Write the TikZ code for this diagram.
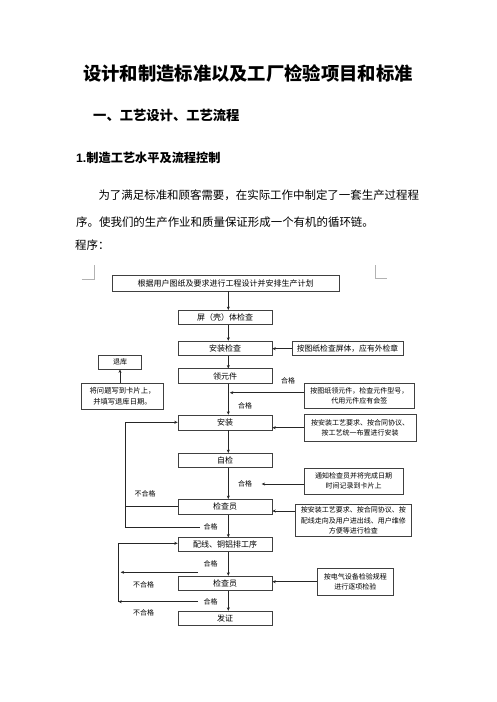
\documentclass[tikz,border=0pt]{standalone}
\usepackage{fontspec}
\newfontfamily\cjk{Noto Sans CJK SC}
\newfontfamily\latin{Liberation Sans}
\usetikzlibrary{arrows.meta, positioning}

\begin{document}
\begin{tikzpicture}[
    x=1pt, y=-1pt,
    >={Stealth[length=3.4pt, width=3pt]},
    font=\cjk\fontsize{8}{10}\selectfont,
    stepbox/.style={draw=black!75, line width=0.6pt, minimum width=94pt,
        minimum height=14.5pt, inner sep=0pt},
    notebox/.style={draw=black!75, line width=0.6pt, align=center, inner sep=0pt,
        font=\cjk\fontsize{7}{10.2}\selectfont},
    lbl/.style={inner sep=0pt, font=\cjk\fontsize{7}{9}\selectfont},
    flow/.style={->, draw=black!85, line width=0.6pt},
    link/.style={draw=black!85, line width=0.6pt},
    txt/.style={inner sep=0pt, anchor=west},
]
\useasboundingbox (0,0) rectangle (496,702);

% page text
\node[inner sep=0pt, font=\cjk\bfseries\fontsize{18.3}{20}\selectfont] (title) at (248,73.3)
    {设计和制造标准以及工厂检验项目和标准};
\node[txt, font=\cjk\bfseries\fontsize{13.3}{15}\selectfont] (sect) at (93,115.7)
    {一、工艺设计、工艺流程};
\node[txt, font=\cjk\bfseries\fontsize{12.2}{14}\selectfont] (subsect) at (76,158)
    {{\latin 1.}制造工艺水平及流程控制};
\node[txt, font=\cjk\fontsize{11.45}{13}\selectfont] (para1) at (98.3,195)
    {为了满足标准和顾客需要，在实际工作中制定了一套生产过程程};
\node[txt, font=\cjk\fontsize{11.45}{13}\selectfont] (para2) at (76,221.7)
    {序。使我们的生产作业和质量保证形成一个有机的循环链。};
\node[txt, font=\cjk\fontsize{11.45}{13}\selectfont] (para3) at (75,245)
    {程序：};

% corner marks
\draw[black!30, line width=0.5pt] (81.7,279) -- (94,279) -- (94,265);
\draw[black!30, line width=0.5pt] (375,265) -- (375,278) -- (387.3,278);

% main column
\node[stepbox, minimum width=227pt, minimum height=16pt] (plan) at (225.5,283)
    {根据用户图纸及要求进行工程设计并安排生产计划};
\node[stepbox] (shell)   at (225,317.5) {屏（壳）体检查};
\node[stepbox] (fitchk)  at (225,348.3) {安装检查};
\node[stepbox] (parts)   at (225,376)   {领元件};
\node[stepbox, minimum height=15pt] (fit) at (225,422.5) {安装};
\node[stepbox] (selfchk) at (225,460.5) {自检};
\node[stepbox, minimum height=15pt] (insp1) at (225,506.8) {检查员};
\node[stepbox, minimum height=14pt] (wiring) at (225,544.7) {配线、铜铝排工序};
\node[stepbox] (insp2)   at (225,583.3) {检查员};
\node[stepbox] (cert)    at (225,618.3) {发证};

% notes
\node[notebox, minimum width=111pt, minimum height=14pt, font=\cjk\fontsize{7.8}{10}\selectfont]
    (drawnote) at (347.5,348.7) {按图纸检查屏体，应有外检章};
\node[notebox, minimum width=43.5pt, minimum height=14.3pt] (store) at (120,362) {退库};
\node[notebox, minimum width=81.6pt, minimum height=26pt, font=\cjk\fontsize{7.3}{10.2}\selectfont]
    (card) at (122.5,396.3) {将问题写到卡片上，\\并填写退库日期。};
\node[notebox, minimum width=110pt, minimum height=25.3pt] (partnote) at (359.3,395.7)
    {按图纸领元件，检查元件型号，\\代用元件应有会签};
\node[notebox, minimum width=112pt, minimum height=26.7pt] (fitnote) at (360,427.7)
    {按安装工艺要求、按合同协议、\\按工艺统一布置进行安装};
\node[notebox, minimum width=99pt, minimum height=26pt] (callnote) at (353.5,481)
    {通知检查员并将完成日期\\时间记录到卡片上};
\node[notebox, minimum width=116.7pt, minimum height=32.4pt] (inspnote) at (353.3,520.5)
    {按安装工艺要求、按合同协议、按\\配线走向及用户进出线、用户维修\\方便等进行检查};
\node[notebox, minimum width=76pt, minimum height=26.7pt] (elecnote) at (355.3,581.7)
    {按电气设备检验规程\\进行逐项检验};

% labels
\node[lbl] (ok1)  at (288,381)     {合格};
\node[lbl] (ok2)  at (245,405.5)   {合格};
\node[lbl] (ok3)  at (245,484)     {合格};
\node[lbl] (ng1)  at (145,494.3)   {不合格};
\node[lbl] (ok4)  at (210.5,526.5) {合格};
\node[lbl] (ok5)  at (210.5,564)   {合格};
\node[lbl] (ng2)  at (143.5,585)   {不合格};
\node[lbl] (ok6)  at (210.5,602)   {合格};
\node[lbl] (ng3)  at (143.5,613.3) {不合格};

% helper points
\coordinate (axis)   at (228.3,0);
\coordinate (loopa)  at (125.7,0);
\coordinate (loopb)  at (118.3,0);
\coordinate (okend)  at (261.7,484);
\coordinate (partin) at ([yshift=3pt]partnote.west);
\coordinate (partat) at ([xshift=1.5pt]axis |- partin);
\coordinate (inspin) at ([yshift=9.5pt]inspnote.west);
\coordinate (failin) at ([yshift=1pt]insp1.west);
\coordinate (fitin)  at ([yshift=0.2pt]fit.west);
\coordinate (wirein) at ([yshift=1.4pt]wiring.west);
\coordinate (ret1)   at (200,527);
\coordinate (ret2)   at (198,572.3);
\coordinate (ret3)   at (198,601.7);

% main flow
\draw[flow] (plan.south -| axis)    -- (shell.north -| axis);
\draw[flow] (shell.south -| axis)   -- (fitchk.north -| axis);
\draw[flow] (fitchk.south -| axis)  -- (parts.north -| axis);
\draw[flow] (parts.south -| axis)   -- (fit.north -| axis);
\draw[flow] (fit.south -| axis)     -- (selfchk.north -| axis);
\draw[flow] (selfchk.south -| axis) -- (insp1.north -| axis);
\draw[flow] (insp1.south -| axis)   -- (wiring.north -| axis);
\draw[flow] (wiring.south -| axis)  -- (insp2.north -| axis);
\draw[flow] (insp2.south -| axis)   -- (cert.north -| axis);

% side inputs
\draw[flow] (drawnote.west) -- (fitchk.east |- drawnote.west);
\draw[flow] (card.north -| store) -- (store.south);
\draw[flow] (partin) -- (partat);
\draw[flow] (fitnote.west) -- (fit.east |- fitnote.west);
\draw[flow] (callnote.west |- okend) -- (okend);
\draw[flow] (inspin) -- (insp1.east |- inspin);
\draw[flow] (elecnote.west) -- (insp2.east |- elecnote.west);

% return loops
\draw[link] (failin) -- (loopa |- failin);
\draw[flow] (ret1) -- (loopa |- ret1) -- (loopa |- fitin) -- (fitin);
\draw[flow] (ret2) -- ([xshift=2.4pt]loopb |- ret2);
\draw[flow] (ret3) -- (loopb |- ret3);
\draw[flow] (loopb |- ret3) -- (loopb |- wirein) -- (wirein);
\end{tikzpicture}
\end{document}
